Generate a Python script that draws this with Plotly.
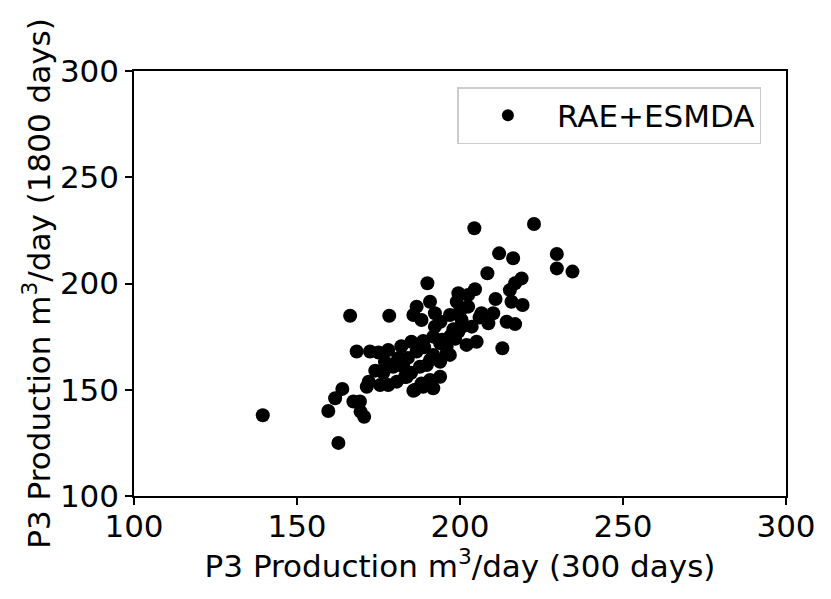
import plotly.graph_objects as go

# P3 production at 300 days vs 1800 days (m3/day)
prod_300 = [
    139.5, 162.7, 159.6, 161.7, 163.9, 167.3, 169.3, 169.5, 170.6, 166.3,
    178.3, 168.3, 172.4, 175.0, 178.0, 174.0, 172.0, 171.4, 175.5, 178.0,
    180.6, 180.1, 182.6, 183.1, 185.7, 188.2, 186.2, 188.7, 191.8, 190.8,
    193.9, 186.7, 190.8, 185.7, 188.2, 192.3, 192.3, 185.1, 188.7, 186.7,
    191.8, 193.9, 196.9, 199.5, 195.9, 202.0, 205.1, 213.0, 196.9, 191.8,
    189.8, 187.7, 190.8, 193.9, 195.9, 190.0, 204.4, 222.7, 212.0, 216.3,
    229.7, 229.7, 234.5, 208.4, 218.9, 216.9, 215.3, 199.5, 204.6, 202.5,
    199.0, 202.5, 210.9, 215.8, 219.2, 196.9, 200.5, 203.6, 206.6, 210.2,
    208.7, 214.3, 216.9, 181.1, 179.5, 176.5, 183.7, 185.0, 198.0, 194.0,
    197.5, 201.0, 189.0, 184.0, 177.0, 194.5, 198.5, 182.0, 206.0, 200.0,
]
prod_1800 = [
    138.0, 125.0, 140.0, 146.0, 150.4, 144.5, 144.5, 139.7, 137.3, 184.8,
    184.8, 168.0, 168.0, 167.5, 168.7, 159.0, 153.8, 151.4, 152.2, 152.2,
    153.8, 162.4, 160.8, 156.0, 149.5, 153.0, 150.0, 151.4, 150.7, 154.6,
    156.1, 189.1, 191.4, 185.2, 182.8, 186.0, 179.7, 172.6, 173.0, 168.0,
    175.0, 171.9, 175.0, 177.3, 170.3, 171.1, 172.6, 169.5, 166.4, 166.4,
    161.6, 160.8, 164.0, 163.2, 167.2, 200.1, 226.0, 228.0, 214.2, 211.9,
    213.9, 207.1, 205.6, 204.8, 202.4, 200.1, 196.9, 195.4, 197.3, 194.6,
    191.4, 189.1, 192.7, 191.4, 189.9, 185.2, 182.8, 179.7, 186.0, 186.0,
    181.3, 182.0, 180.9, 164.8, 160.8, 158.0, 156.1, 158.0, 178.5, 182.0,
    176.0, 180.0, 170.0, 165.0, 163.0, 173.5, 174.0, 170.5, 184.0, 187.0,
]

font = "DejaVu Sans"
fsize = 31

fig = go.Figure()
fig.add_trace(go.Scatter(
    x=prod_300, y=prod_1800, mode="markers", name="RAE+ESMDA",
    marker=dict(color="black", size=14, line=dict(width=0)),
))

axis_style = dict(
    range=[100, 300], dtick=50, showline=True, linecolor="black", linewidth=1.5,
    mirror=True, ticks="outside", ticklen=7, tickwidth=1.5, tickcolor="black",
    showgrid=False, zeroline=False, tickfont=dict(family=font, size=fsize, color="black"),
)
fig.update_xaxes(**axis_style, ticklabelstandoff=-5, title=dict(
    text="P3 Production m<sup>3</sup>/day (300 days)",
    font=dict(family=font, size=fsize, color="black"), standoff=6))
fig.update_yaxes(**axis_style, title=dict(
    text="P3 Production m<sup>3</sup>/day (1800 days)",
    font=dict(family=font, size=fsize, color="black"), standoff=0))

fig.update_layout(
    width=823, height=591,
    margin=dict(l=126, r=45, t=63, b=103),
    paper_bgcolor="white", plot_bgcolor="white",
    showlegend=True,
    legend=dict(
        x=0.496, y=0.962, xanchor="left", yanchor="top",
        bgcolor="white", bordercolor="#cccccc", borderwidth=1.5,
        font=dict(family=font, size=fsize, color="black"),
        itemsizing="constant", itemwidth=88,
    ),
)

fig.write_html("out.html")
